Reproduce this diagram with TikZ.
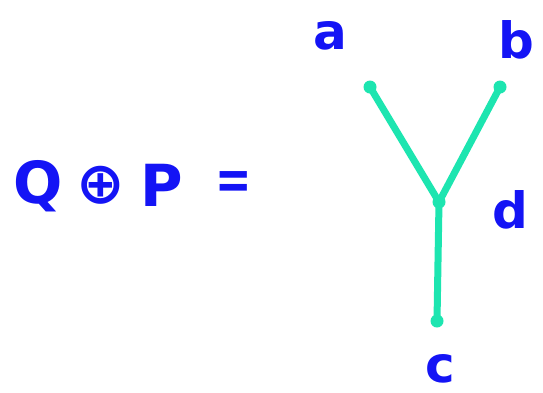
\documentclass[tikz,border=0pt]{standalone}
\usepackage{fontspec}
\setmainfont{DejaVu Sans}
\usetikzlibrary{positioning}
\definecolor{cblue}{HTML}{1414F5}
\definecolor{cteal}{HTML}{1DE5B0}
\tikzset{
  every picture/.style={x=1pt, y=-1pt},
  sym/.style={text=cblue, font=\fontsize{58}{60}\selectfont\bfseries, inner sep=0pt},
  lbl/.style={text=cblue, font=\fontsize{50}{52}\selectfont\bfseries, inner sep=0pt},
  leg/.style={draw=cteal, line width=7pt, line cap=round},
  tip/.style={circle, fill=cteal, minimum size=13pt, inner sep=0pt},
}

\begin{document}
\begin{tikzpicture}
  \useasboundingbox (0,0) rectangle (543,392);
  % left hand side
  \node[sym] (q) at (38,186) {Q};
  \node[sym] (plus) at (101,185) {⊕};
  \node[sym] (p) at (162,185) {P};
  \node[sym, xscale=0.75] (eq) at (234,186) {=};
  % the tree
  \node[tip] (ta) at (370,87) {};
  \node[tip] (tb) at (500,87) {};
  \node[tip] (td) at (439,202) {};
  \node[tip] (tc) at (437,321) {};
  \foreach \a/\b in {ta/td, tb/td, td/tc} \draw[leg] (\a.center) -- (\b.center);
  \node[lbl] (la) at (330,36) {a};
  \node[lbl] (lb) at (516,40) {b};
  \node[lbl] (ld) at (510,210) {d};
  \node[lbl] (lc) at (440,369) {c};
\end{tikzpicture}
\end{document}
